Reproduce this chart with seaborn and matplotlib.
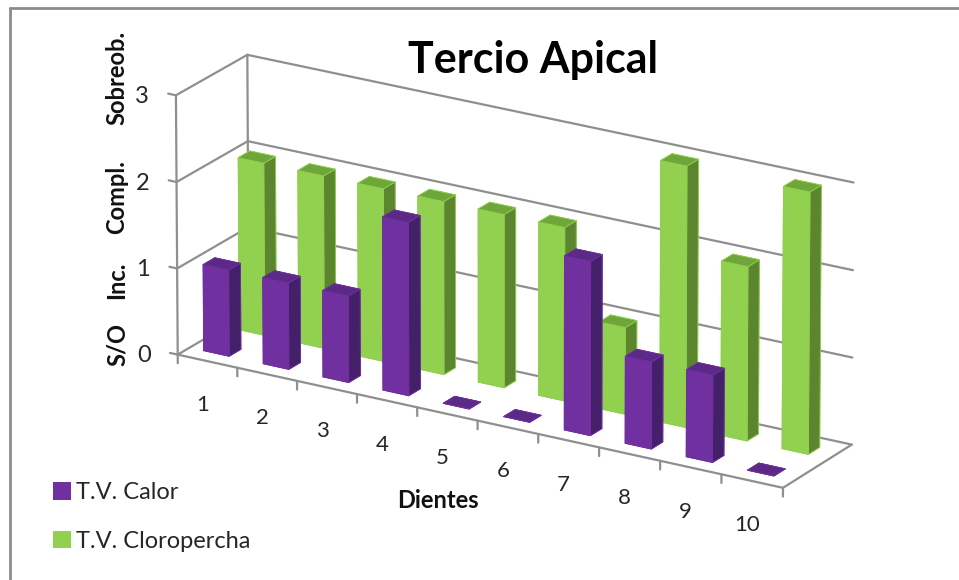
import matplotlib
matplotlib.use("Agg")
import matplotlib.pyplot as plt
from matplotlib.patches import Patch
from matplotlib.lines import Line2D
import seaborn as sns

# data
dientes = [1, 2, 3, 4, 5, 6, 7, 8, 9, 10]
tv_calor = [1, 1, 1, 2, 0, 0, 2, 1, 1, 0]
tv_cloropercha = [2, 2, 2, 2, 2, 2, 1, 3, 2, 3]
z_ticks = [0, 1, 2, 3]
z_names = ["S/O", "Inc.", "Compl.", "Sobreob."]

sns.set_theme(style="white")
plt.rcParams["font.family"] = ["Lato", "DejaVu Sans"]

W, H = 959, 580
purple = sns.color_palette(["#7030a0", "#45206a", "#5a2a86"])
green = sns.color_palette(["#92d050", "#5c8530", "#6fa63a"])
grid_col = "#8f8f8f"
txt_col = "#262626"

fig = plt.figure(figsize=(W / 100, H / 100), dpi=100, facecolor="white")
# box centre, axes is big so nothing gets clipped
ax = fig.add_axes([497 / W - 1, (H - 285) / H - 1, 2, 2], projection="3d")
ax.set_proj_type("persp", focal_length=3)
ax.view_init(elev=21, azim=-59, roll=0)
ax.set_box_aspect((706, 136, 279), zoom=0.646)
ax.set_axis_off()
ax.patch.set_alpha(0)
ax.computed_zorder = False

x0, x1 = 0.5, 10.5
ax.set_xlim(x0, x1)
ax.set_ylim(0, 2)
ax.set_zlim(0, 3)


def line(xs, ys, zs, lw=1.6):
    ax.plot(xs, ys, zs, color=grid_col, lw=lw, zorder=1, clip_on=False)


# walls, floor and gridlines
for z in z_ticks:
    line([x0, x0], [0, 2], [z, z])
    line([x0, x1], [2, 2], [z, z])
    line([x0 - 0.13, x0], [0, 0], [z, z])
line([x0, x0], [0, 0], [0, 3])
line([x0, x0], [2, 2], [0, 3])
line([x0, x1], [0, 0], [0, 0])
line([x1, x1], [0, 2], [0, 0])
for i in range(11):
    line([x0 + i, x0 + i], [0, 0], [-0.1, 0])

bw, bd = 0.43, 0.33


def draw_bars(vals, y_center, cols, zo):
    for d, v in zip(dientes, vals):
        front, side, top = cols
        # faces are -Z, +Z, -Y, +Y, -X, +X
        faces = [top, top, front, side, side, side]
        ax.bar3d(d - 0.05 - bw / 2, y_center - bd / 2, 0, bw, bd, v, color=faces,
                 shade=False, zorder=zo, edgecolor=cols[0], linewidth=0.6)


draw_bars(tv_cloropercha, 1.5, green, 2)
draw_bars(tv_calor, 0.5, purple, 3)

# tick labels
for d in dientes:
    ax.text(d - 0.08, 0, -0.52, str(d), fontsize=16, color=txt_col, ha="center", va="center")
for z in z_ticks:
    ax.text(x0 - 0.57, 0, z - 0.1, str(z), fontsize=17, color=txt_col, ha="center", va="center")

# rotated level names
name_y = [345, 280, 197, 78]
for name, y in zip(z_names, name_y):
    fig.text(117 / W, 1 - y / H, name, rotation=90, fontsize=17, fontweight="bold",
             color="#111111", ha="center", va="center")

fig.text(533 / W, 1 - 60 / H, "Tercio Apical", fontsize=31, fontweight="bold",
         color="black", ha="center", va="center")
fig.text(438 / W, 1 - 501 / H, "Dientes", fontsize=17, fontweight="bold",
         color="#111111", ha="center", va="center")

handles = [Patch(facecolor=purple[0], edgecolor="none", label="T.V. Calor"),
           Patch(facecolor=green[0], edgecolor="none", label="T.V. Cloropercha")]
fig.legend(handles=handles, loc="upper left", bbox_to_anchor=(44 / W, 1 - 473 / H),
           frameon=False, fontsize=17, labelcolor=txt_col, handlelength=0.76,
           handleheight=0.76, handletextpad=0.2, labelspacing=1.15, borderaxespad=0)

# chart border, only top and left show
fig.add_artist(Line2D([10 / W, 10 / W], [0, 1 - 8 / H], color="#8c8c8c", lw=2))
fig.add_artist(Line2D([10 / W, 1], [1 - 8 / H, 1 - 8 / H], color="#8c8c8c", lw=2))

fig.savefig("out.png", dpi=100, facecolor="white")
